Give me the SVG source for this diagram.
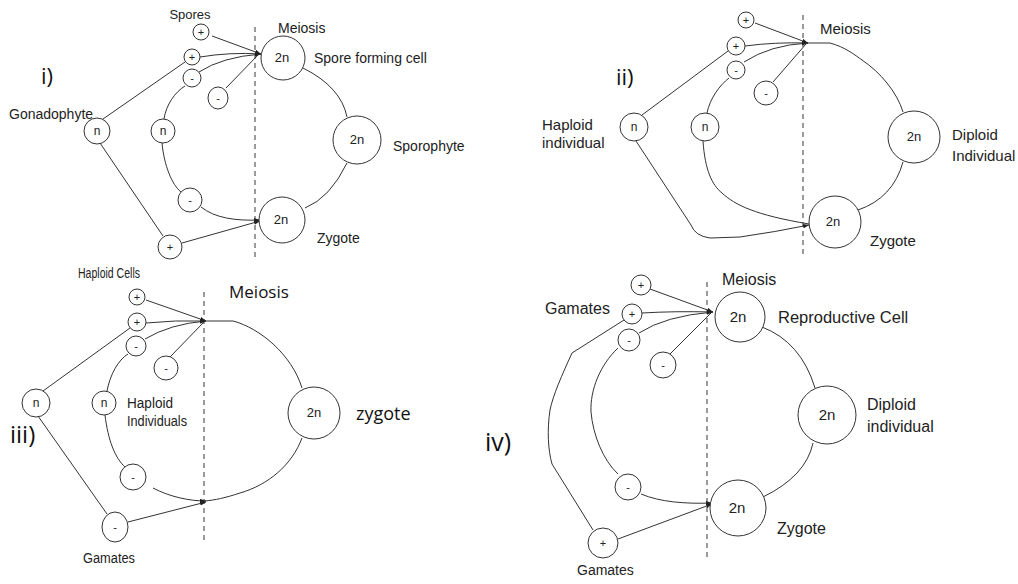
<svg xmlns="http://www.w3.org/2000/svg" width="1018" height="584" viewBox="0 0 1018 584">
<style>
.c{fill:#fff;stroke:#333;stroke-width:1}
.l{fill:none;stroke:#333;stroke-width:1}
.d{fill:none;stroke:#666;stroke-width:1.3;stroke-dasharray:5 4}
.a{font-family:"Liberation Sans",Arial,sans-serif;fill:#222}
.s{font-family:"Liberation Sans",Arial,sans-serif;fill:#222;text-anchor:middle}
.o{font-family:"Open Sans","Noto Sans",sans-serif;fill:#111}
</style>
<defs>
<marker id="ar" viewBox="0 0 8 6" refX="8" refY="3" markerWidth="6" markerHeight="4.5" orient="auto" markerUnits="userSpaceOnUse">
<path d="M0,0 L8,3 L0,6 Z" fill="#222"/>
</marker>
</defs>
<rect width="1018" height="584" fill="#fff"/>

<g id="dashes">
<line class="d" x1="255" y1="27" x2="255" y2="257"/>
<line class="d" x1="803" y1="15" x2="803" y2="257"/>
<line class="d" x1="204" y1="292" x2="204" y2="540"/>
<line class="d" x1="707" y1="282" x2="707" y2="557"/>
</g>

<g id="connectors">
<!-- panel i -->
<path class="l" marker-end="url(#ar)" d="M212,36 L261,54"/>
<path class="l" marker-end="url(#ar)" d="M200,57 Q230,52 261,54"/>
<path class="l" marker-end="url(#ar)" d="M199,72 Q222,57 261,54"/>
<path class="l" d="M226,88 L258,55"/>
<path class="l" d="M103,119 L185,62"/>
<path class="l" d="M164,119 C166,105 175,92 185,86"/>
<path class="l" d="M162,143 C164,165 172,185 181,192"/>
<path class="l" marker-end="url(#ar)" d="M201,207 C215,218 235,221 260,220"/>
<path class="l" marker-end="url(#ar)" d="M182,243 L260,221"/>
<path class="l" d="M100,143 L163,236"/>
<path class="l" d="M303,68 Q341,87 347,117"/>
<path class="l" d="M347,163 Q330,198 305,208"/>
<!-- panel ii -->
<path class="l" marker-end="url(#ar)" d="M755,23 L808,43"/>
<path class="l" marker-end="url(#ar)" d="M745,46 Q775,42 808,43"/>
<path class="l" marker-end="url(#ar)" d="M744,62 Q770,45 808,43"/>
<path class="l" d="M773,82 L806,44"/>
<path class="l" d="M642,115 L728,51"/>
<path class="l" d="M707,113 C710,98 720,85 729,78"/>
<path class="l" marker-end="url(#ar)" d="M636,141 L691,225 Q695,236 710,238 L740,237 Q775,232 809,225"/>
<path class="l" d="M703,141 C705,170 712,185 722,193 C735,205 755,215 809,224"/>
<path class="l" d="M807,43 L830,43 C845,47 855,55 862,60 C880,72 897,92 903,112"/>
<path class="l" d="M903,162 Q893,198 858,210"/>
<!-- panel iii -->
<path class="l" marker-end="url(#ar)" d="M146,300 L206,321"/>
<path class="l" marker-end="url(#ar)" d="M146,323 Q175,320 206,321"/>
<path class="l" marker-end="url(#ar)" d="M145,339 Q170,324 206,321"/>
<path class="l" d="M170,357 L204,322"/>
<path class="l" d="M205,321 L233,321 C260,328 292,355 302,388"/>
<path class="l" d="M302,438 C292,465 268,485 240,493 C225,498 215,500 205,501"/>
<path class="l" d="M43,391 L130,328"/>
<path class="l" d="M107,391 C110,375 118,360 128,354"/>
<path class="l" d="M105,415 C108,440 115,458 125,467"/>
<path class="l" d="M38,416 L107,514"/>
<path class="l" marker-end="url(#ar)" d="M153,488 C170,497 190,501 206,501"/>
<path class="l" marker-end="url(#ar)" d="M128,522 L206,502"/>
<!-- panel iv -->
<path class="l" marker-end="url(#ar)" d="M650,289 L713,312"/>
<path class="l" marker-end="url(#ar)" d="M642,313 Q675,311 713,312"/>
<path class="l" marker-end="url(#ar)" d="M639,333 Q665,316 713,312"/>
<path class="l" d="M670,354 L711,313"/>
<path class="l" d="M624,320 L572,353 C562,375 553,395 550,410 C547,430 548,450 552,464 L593,530"/>
<path class="l" d="M618,348 C600,365 590,390 591,412 C593,435 603,460 618,474"/>
<path class="l" marker-end="url(#ar)" d="M641,494 C660,502 685,504 712,503"/>
<path class="l" marker-end="url(#ar)" d="M618,539 L712,504"/>
<path class="l" d="M762,327 Q801,342 815,388"/>
<path class="l" d="M813,443 Q806,476 763,497"/>
</g>

<!-- panel i nodes -->
<g id="i-spore-plus-1"><circle class="c" cx="201" cy="32" r="8"/><text class="s" x="201" y="36" font-size="11">+</text></g>
<g id="i-spore-plus-2"><circle class="c" cx="192" cy="57" r="8"/><text class="s" x="192" y="61" font-size="11">+</text></g>
<g id="i-spore-minus-1"><circle class="c" cx="192" cy="78" r="9"/><text class="s" x="192" y="82" font-size="11">-</text></g>
<g id="i-spore-minus-2"><ellipse class="c" cx="218" cy="98" rx="10" ry="11"/><text class="s" x="218" y="102" font-size="11">-</text></g>
<g id="i-gonadophyte"><circle class="c" cx="97" cy="131" r="13"/><text class="s" x="97" y="135" font-size="12">n</text></g>
<g id="i-inner-n"><circle class="c" cx="163" cy="131" r="12"/><text class="s" x="163" y="135" font-size="12">n</text></g>
<g id="i-gamete-minus"><circle class="c" cx="190" cy="200" r="12"/><text class="s" x="190" y="204" font-size="11">-</text></g>
<g id="i-gamete-plus"><circle class="c" cx="170" cy="247" r="12"/><text class="s" x="170" y="251" font-size="11">+</text></g>
<g id="i-spore-cell"><circle class="c" cx="283" cy="58" r="22"/><text class="s" x="282" y="62" font-size="13">2n</text></g>
<g id="i-sporophyte"><circle class="c" cx="357" cy="140" r="24"/><text class="s" x="357" y="144" font-size="13">2n</text></g>
<g id="i-zygote"><circle class="c" cx="282" cy="220" r="23"/><text class="s" x="281" y="224" font-size="13">2n</text></g>
<g id="i-labels">
<text class="o" x="41" y="84" font-size="22">i)</text>
<text class="s" x="190" y="19" font-size="13">Spores</text>
<text class="a" x="278" y="33" font-size="14">Meiosis</text>
<text class="a" x="314" y="63" font-size="14">Spore forming cell</text>
<text class="a" x="393" y="151" font-size="14">Sporophyte</text>
<text class="a" x="317" y="243" font-size="14">Zygote</text>
<text class="a" x="9" y="119" font-size="14">Gonadophyte</text>
</g>

<!-- panel ii nodes -->
<g id="ii-plus-1"><circle class="c" cx="746" cy="20" r="8"/><text class="s" x="746" y="24" font-size="11">+</text></g>
<g id="ii-plus-2"><circle class="c" cx="736" cy="46" r="9"/><text class="s" x="736" y="50" font-size="11">+</text></g>
<g id="ii-minus-1"><circle class="c" cx="736" cy="70" r="9"/><text class="s" x="736" y="74" font-size="11">-</text></g>
<g id="ii-minus-2"><circle class="c" cx="766" cy="93" r="12"/><text class="s" x="766" y="97" font-size="11">-</text></g>
<g id="ii-haploid"><circle class="c" cx="634" cy="127" r="14"/><text class="s" x="634" y="131" font-size="12">n</text></g>
<g id="ii-inner-n"><circle class="c" cx="705" cy="127" r="14"/><text class="s" x="705" y="131" font-size="12">n</text></g>
<g id="ii-diploid"><circle class="c" cx="914" cy="137" r="26"/><text class="s" x="914" y="141" font-size="13">2n</text></g>
<g id="ii-zygote"><circle class="c" cx="835" cy="222" r="26"/><text class="s" x="833" y="226" font-size="13">2n</text></g>
<g id="ii-labels">
<text class="o" x="616" y="85" font-size="22">ii)</text>
<text class="a" x="820" y="34" font-size="15">Meiosis</text>
<text class="a" x="542" y="130" font-size="15">Haploid</text>
<text class="a" x="542" y="148" font-size="15">individual</text>
<text class="a" x="952" y="140" font-size="15">Diploid</text>
<text class="a" x="952" y="161" font-size="15">Individual</text>
<text class="a" x="870" y="246" font-size="15">Zygote</text>
</g>

<!-- panel iii nodes -->
<g id="iii-plus-1"><circle class="c" cx="137" cy="297" r="8"/><text class="s" x="137" y="301" font-size="11">+</text></g>
<g id="iii-plus-2"><circle class="c" cx="137" cy="322" r="9"/><text class="s" x="137" y="326" font-size="11">+</text></g>
<g id="iii-minus-1"><circle class="c" cx="136" cy="346" r="10"/><text class="s" x="136" y="350" font-size="11">-</text></g>
<g id="iii-minus-2"><circle class="c" cx="166" cy="368" r="12"/><text class="s" x="166" y="372" font-size="11">-</text></g>
<g id="iii-outer-n"><circle class="c" cx="36" cy="403" r="14"/><text class="s" x="36" y="407" font-size="12">n</text></g>
<g id="iii-inner-n"><circle class="c" cx="104" cy="403" r="12"/><text class="s" x="104" y="407" font-size="12">n</text></g>
<g id="iii-minus-3"><circle class="c" cx="133" cy="477" r="13"/><text class="s" x="133" y="481" font-size="11">-</text></g>
<g id="iii-gamete"><ellipse class="c" cx="115" cy="527" rx="13" ry="15"/><text class="s" x="115" y="531" font-size="11">-</text></g>
<g id="iii-zygote"><circle class="c" cx="314" cy="413" r="26"/><text class="s" x="314" y="417" font-size="13">2n</text></g>
<g id="iii-labels">
<text class="o" x="10" y="443" font-size="24">iii)</text>
<text class="a" x="78" y="278" font-size="14" textLength="62" lengthAdjust="spacingAndGlyphs">Haploid Cells</text>
<text class="o" x="229" y="298" font-size="17">Meiosis</text>
<text class="a" x="127" y="408" font-size="14" textLength="46" lengthAdjust="spacingAndGlyphs">Haploid</text>
<text class="a" x="127" y="426" font-size="14" textLength="60" lengthAdjust="spacingAndGlyphs">Individuals</text>
<text class="o" x="356" y="420" font-size="18">zygote</text>
<text class="a" x="83" y="563" font-size="14" textLength="52" lengthAdjust="spacingAndGlyphs">Gamates</text>
</g>

<!-- panel iv nodes -->
<g id="iv-plus-1"><circle class="c" cx="641" cy="285" r="10"/><text class="s" x="641" y="289" font-size="11">+</text></g>
<g id="iv-plus-2"><circle class="c" cx="632" cy="314" r="10"/><text class="s" x="632" y="318" font-size="11">+</text></g>
<g id="iv-minus-1"><circle class="c" cx="629" cy="340" r="11"/><text class="s" x="629" y="344" font-size="11">-</text></g>
<g id="iv-minus-2"><circle class="c" cx="663" cy="365" r="13"/><text class="s" x="663" y="369" font-size="11">-</text></g>
<g id="iv-minus-3"><circle class="c" cx="628" cy="487" r="13"/><text class="s" x="628" y="491" font-size="11">-</text></g>
<g id="iv-gamete-plus"><circle class="c" cx="603" cy="543" r="15"/><text class="s" x="603" y="547" font-size="11">+</text></g>
<g id="iv-reproductive"><circle class="c" cx="740" cy="317" r="25"/><text class="s" x="738" y="322" font-size="15">2n</text></g>
<g id="iv-diploid"><circle class="c" cx="827" cy="415" r="29"/><text class="s" x="827" y="420" font-size="15">2n</text></g>
<g id="iv-zygote"><circle class="c" cx="738" cy="508" r="28"/><text class="s" x="737" y="513" font-size="15">2n</text></g>
<g id="iv-labels">
<text class="o" x="485" y="451" font-size="25">iv)</text>
<text class="a" x="545" y="314" font-size="16">Gamates</text>
<text class="a" x="722" y="285" font-size="16">Meiosis</text>
<text class="a" x="778" y="323" font-size="16.5">Reproductive Cell</text>
<text class="a" x="867" y="410" font-size="16">Diploid</text>
<text class="a" x="867" y="432" font-size="16">individual</text>
<text class="a" x="777" y="534" font-size="16">Zygote</text>
<text class="a" x="577" y="575" font-size="14">Gamates</text>
</g>
</svg>
